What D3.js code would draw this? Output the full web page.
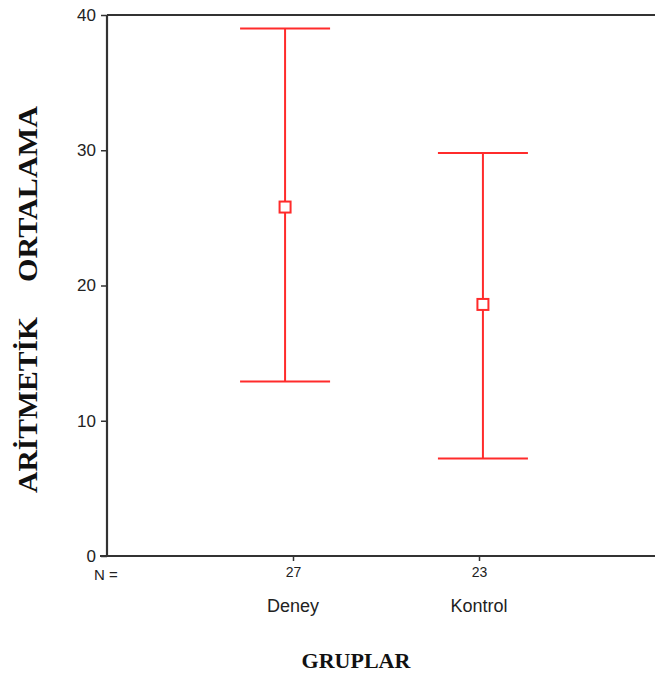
<!DOCTYPE html>
<html>
<head>
<meta charset="utf-8">
<script src="https://cdn.jsdelivr.net/npm/d3@7"></script>
<style>
  body { margin: 0; background: #fff; }
  svg { display: block; }
</style>
</head>
<body>
<script>
//chart data
var groups = ["Deney", "Kontrol"];
var counts = ["27", "23"];
var means = [25.8, 18.6];
var upper = [39.0, 29.8];
var lower = [12.9, 7.2];
var yTicks = [0, 10, 20, 30, 40];
var yTitleWords = ["ARİTMETİK", "ORTALAMA"];

var width = 655,
    height = 674;

var svg = d3.select("body")
    .append("svg")
    .attr("width", width)
    .attr("height", height);

//plot frame runs off the right edge like the original
var plotLeft = 107, plotTop = 15, plotBottom = 556;

var y = d3.scaleLinear()
    .domain([0, 40])
    .range([plotBottom, plotTop]);

//error bar positions
var x = d3.scalePoint()
    .domain(groups)
    .range([plotLeft, 661])
    .padding(0.9);

//category axis positions (SPSS puts them slightly off the bars)
var xAxisPos = d3.scalePoint()
    .domain(groups)
    .range([plotLeft, 665])
    .padding(1);

var axisColor = "#333";

//y axis
var yAxis = svg.append("g")
    .attr("transform", "translate(" + plotLeft + ",0)")
    .call(d3.axisLeft(y).tickValues(yTicks).tickSize(6).tickPadding(5));
yAxis.select(".domain").remove();
yAxis.selectAll("line").attr("stroke", axisColor).attr("stroke-width", 1.5);
yAxis.selectAll("text")
    .attr("font-family", "Arial, 'Liberation Sans', sans-serif")
    .attr("font-size", 17)
    .attr("fill", "#222");

//frame lines
svg.append("line")
    .attr("x1", plotLeft).attr("x2", plotLeft)
    .attr("y1", plotTop).attr("y2", plotBottom)
    .attr("stroke", axisColor).attr("stroke-width", 2.2);
svg.append("line")
    .attr("x1", plotLeft).attr("x2", width + 10)
    .attr("y1", plotTop).attr("y2", plotTop)
    .attr("stroke", axisColor).attr("stroke-width", 2.2);
svg.append("line")
    .attr("x1", plotLeft - 7).attr("x2", width + 10)
    .attr("y1", plotBottom).attr("y2", plotBottom)
    .attr("stroke", axisColor).attr("stroke-width", 2.2);

//x axis with N counts
var xAxis = svg.append("g")
    .attr("transform", "translate(0," + plotBottom + ")")
    .call(d3.axisBottom(xAxisPos)
        .tickSize(5)
        .tickPadding(6)
        .tickFormat(function(d, i) { return counts[i]; }));
xAxis.select(".domain").remove();
xAxis.selectAll("line").attr("stroke", axisColor).attr("stroke-width", 1.5);
xAxis.selectAll("text")
    .attr("font-family", "Arial, 'Liberation Sans', sans-serif")
    .attr("font-size", 14)
    .attr("fill", "#222");

svg.append("text")
    .attr("x", 94)
    .attr("y", 580)
    .attr("font-family", "Arial, 'Liberation Sans', sans-serif")
    .attr("font-size", 15)
    .attr("fill", "#222")
    .text("N =");

//group names
svg.selectAll(".groupLabel")
    .data(groups)
    .enter()
    .append("text")
    .attr("class", "groupLabel")
    .attr("x", function(d) { return xAxisPos(d); })
    .attr("y", 612)
    .attr("text-anchor", "middle")
    .attr("font-family", "Arial, 'Liberation Sans', sans-serif")
    .attr("font-size", 18)
    .attr("fill", "#222")
    .text(function(d) { return d; });

//error bars
var red = "#ff2b2b";
var capHalf = 45;
var bars = svg.selectAll(".bar")
    .data(groups)
    .enter()
    .append("g")
    .attr("class", "bar");

bars.append("line")
    .attr("x1", function(d) { return x(d); })
    .attr("x2", function(d) { return x(d); })
    .attr("y1", function(d, i) { return y(upper[i]); })
    .attr("y2", function(d, i) { return y(lower[i]); })
    .attr("stroke", red).attr("stroke-width", 2);

bars.append("line")
    .attr("x1", function(d) { return x(d) - capHalf; })
    .attr("x2", function(d) { return x(d) + capHalf; })
    .attr("y1", function(d, i) { return y(upper[i]); })
    .attr("y2", function(d, i) { return y(upper[i]); })
    .attr("stroke", red).attr("stroke-width", 2);

bars.append("line")
    .attr("x1", function(d) { return x(d) - capHalf; })
    .attr("x2", function(d) { return x(d) + capHalf; })
    .attr("y1", function(d, i) { return y(lower[i]); })
    .attr("y2", function(d, i) { return y(lower[i]); })
    .attr("stroke", red).attr("stroke-width", 2);

//mean markers
bars.append("rect")
    .attr("x", function(d) { return x(d) - 5.5; })
    .attr("y", function(d, i) { return y(means[i]) - 5.5; })
    .attr("width", 11)
    .attr("height", 11)
    .attr("fill", "#fff")
    .attr("stroke", red)
    .attr("stroke-width", 2);

//axis titles, the two words of the y title sit far apart
var yTitleCenters = [405, 194];
svg.selectAll(".yTitle")
    .data(yTitleWords)
    .enter()
    .append("text")
    .attr("class", "yTitle")
    .attr("transform", function(d, i) { return "translate(37," + yTitleCenters[i] + ") rotate(-90)"; })
    .attr("text-anchor", "middle")
    .attr("font-family", "'Liberation Serif', 'Times New Roman', serif")
    .attr("font-weight", "bold")
    .attr("font-size", 28)
    .attr("textLength", 176)
    .attr("lengthAdjust", "spacingAndGlyphs")
    .attr("fill", "#111")
    .text(function(d) { return d; });

svg.append("text")
    .attr("x", 356)
    .attr("y", 668)
    .attr("text-anchor", "middle")
    .attr("font-family", "'Liberation Serif', 'Times New Roman', serif")
    .attr("font-weight", "bold")
    .attr("font-size", 22)
    .attr("fill", "#111")
    .text("GRUPLAR");
</script>
</body>
</html>
